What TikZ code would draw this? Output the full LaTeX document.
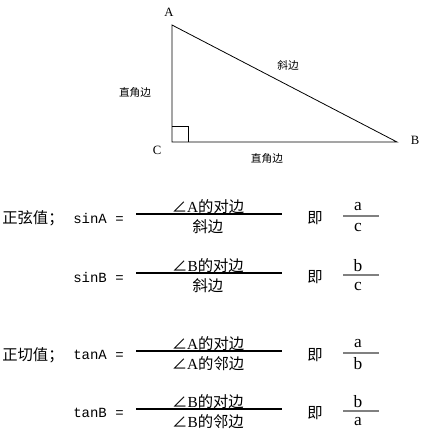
\documentclass[tikz,border=0pt]{standalone}
\usepackage{fontspec}
\setmainfont{Liberation Serif}
\setmonofont{Liberation Mono}
\newfontfamily\cjk{Noto Sans CJK SC}
\newcommand\opp[1]{{\cjk ∠}#1{\cjk 的对边}}
\newcommand\adj[1]{{\cjk ∠}#1{\cjk 的邻边}}

\begin{document}
\begin{tikzpicture}[x=0.75pt,y=-0.75pt,
  small/.style={inner sep=0pt,font=\fontsize{8pt}{9pt}\selectfont},
  vert/.style={inner sep=0pt,font=\fontsize{9.5pt}{11pt}\selectfont},
  big/.style={inner sep=0pt,font=\fontsize{11.5pt}{13pt}\selectfont},
  letter/.style={inner sep=0pt,font=\fontsize{13pt}{15pt}\selectfont},
  mono/.style={inner sep=0pt,anchor=west,font=\fontsize{10.5pt}{12pt}\ttfamily}]
\useasboundingbox (0,0) rectangle (422,444);

% triangle
\coordinate (A) at (172,25);
\coordinate (B) at (397,142);
\coordinate (C) at (172,142);
\draw[line width=0.6pt] (A) -- (B) -- (C) -- cycle;
\draw[line width=0.6pt] (C) ++(0,-16) -| ++(16,16);
\node[vert] (la) at (169,12) {A};
\node[vert] (lb) at (415,140) {B};
\node[vert] (lc) at (157,150) {C};
\node[small] (hyp) at (288,65) {\cjk 斜边};
\node[small] (leg1) at (135,92) {\cjk 直角边};
\node[small] (leg2) at (267,158) {\cjk 直角边};

% ratios
\node[big,anchor=west] (sinlab) at (2,218) {\cjk 正弦值；};
\node[big,anchor=west] (tanlab) at (2,355) {\cjk 正切值；};
\foreach \i/\y/\lhs/\num/\den/\n/\d in {1/214/sinA/\opp{A}/{\cjk 斜边}/a/c,
  2/273/sinB/\opp{B}/{\cjk 斜边}/b/c,
  3/351/tanA/\opp{A}/\adj{A}/a/b,
  4/409/tanB/\opp{B}/\adj{B}/b/a} {
\node[mono] (lhs\i) at (73,\y+4) {\lhs\ =};
\coordinate (bl\i) at (136,\y);
\coordinate (br\i) at (282,\y);
\draw[line width=1.5pt] (bl\i) -- (br\i);
\node[big] (num\i) at (208,\y-7) {\num};
\node[big] (den\i) at (208,\y+13) {\den};
\node[big] (ji\i) at (315,\y+4) {\cjk 即};
\coordinate (sl\i) at (343,\y+2);
\coordinate (sr\i) at (379,\y+2);
\draw[line width=0.8pt,gray] (sl\i) -- (sr\i);
\node[letter] (n\i) at (358,\y-7) {\n};
\node[letter] (d\i) at (358,\y+13) {\d};
}
\end{tikzpicture}
\end{document}
